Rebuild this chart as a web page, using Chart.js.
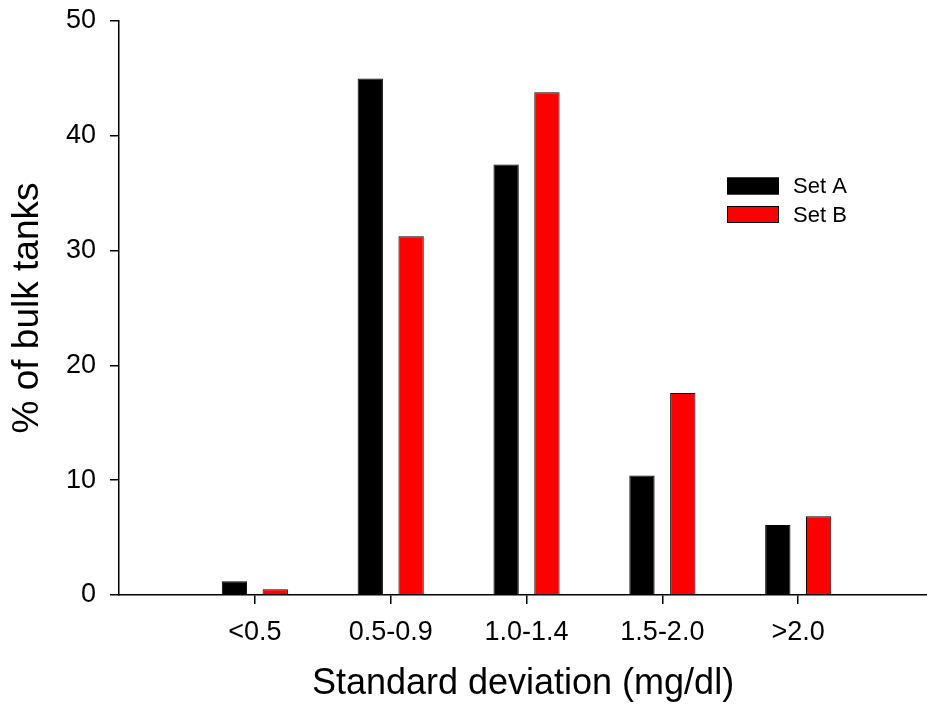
<!DOCTYPE html>
<html>
<head>
<meta charset="utf-8">
<script src="https://cdn.jsdelivr.net/npm/chart.js@4/dist/chart.umd.min.js"></script>
<style>
  html, body { margin: 0; padding: 0; background: #fff; }
  canvas { display: block; }
</style>
</head>
<body>
<canvas id="chart" width="927" height="709"></canvas>
<script>
// Distribution of bulk-tank standard deviations (mg/dl), two sample sets
const categories = ['<0.5', '0.5-0.9', '1.0-1.4', '1.5-2.0', '>2.0'];
const setA = [1.2, 45.0, 37.5, 10.4, 6.1];
const setB = [0.5, 31.25, 43.8, 17.6, 6.85];
const yTicks = [0, 10, 20, 30, 40, 50];
const seriesNames = ['Set A', 'Set B'];

const FONT = 'Liberation Sans, Arial, Helvetica, sans-serif';

// Categories sit at x = 1..5 on a linear axis that starts at 0
const toPoints = (vals) => vals.map((v, i) => ({ x: i + 1, y: v }));

// Small legend drawn inside the plot area, to the right of the tallest bars
const insetLegend = {
  id: 'insetLegend',
  afterDraw(chart, args, opts) {
    const ctx = chart.ctx;
    ctx.save();
    chart.data.datasets.forEach((ds, i) => {
      const y = opts.top + i * opts.spacing;
      ctx.fillStyle = ds.backgroundColor;
      ctx.fillRect(opts.left, y, opts.boxWidth, opts.boxHeight);
      ctx.lineWidth = 1;
      ctx.strokeStyle = '#000';
      ctx.strokeRect(opts.left + 0.5, y + 0.5, opts.boxWidth - 1, opts.boxHeight - 1);
      ctx.fillStyle = '#000';
      ctx.font = opts.fontSize + 'px ' + FONT;
      ctx.textBaseline = 'middle';
      ctx.textAlign = 'left';
      ctx.fillText(ds.label, opts.left + opts.boxWidth + opts.gap, y + opts.boxHeight / 2 + 1);
    });
    ctx.restore();
  }
};

new Chart(document.getElementById('chart'), {
  type: 'bar',
  data: {
    datasets: [
      {
        label: seriesNames[0],
        data: toPoints(setA),
        backgroundColor: '#000000',
        borderColor: '#000000',
        borderWidth: 1
      },
      {
        label: seriesNames[1],
        data: toPoints(setB),
        backgroundColor: '#ff0000',
        borderColor: '#000000',
        borderWidth: 1
      }
    ]
  },
  options: {
    responsive: false,
    animation: false,
    devicePixelRatio: 1,
    categoryPercentage: 0.601,
    barPercentage: 0.62,
    layout: { padding: { top: 21, left: 0, right: 0, bottom: 0 } },
    plugins: {
      legend: { display: false },
      tooltip: { enabled: false },
      insetLegend: {
        left: 727, top: 177.5, boxWidth: 52, boxHeight: 17, spacing: 28.5,
        gap: 14, fontSize: 22
      }
    },
    scales: {
      x: {
        type: 'linear',
        position: 'bottom',
        min: 0,
        max: 5.948,
        offset: false,
        afterBuildTicks(scale) {
          scale.ticks = categories.map((_, i) => ({ value: i + 1 }));
        },
        afterFit(scale) { scale.height = 114; },
        ticks: {
          autoSkip: false,
          maxRotation: 0,
          padding: 12,
          color: '#000',
          font: { family: FONT, size: 27 },
          callback: (value) => categories[value - 1]
        },
        grid: {
          display: true,
          offset: false,
          drawOnChartArea: false,
          drawTicks: true,
          tickLength: 9,
          color: '#000',
          lineWidth: 1.5
        },
        border: { display: true, color: '#000', width: 1.5 },
        title: {
          display: true,
          text: 'Standard deviation (mg/dl)',
          color: '#000',
          font: { family: FONT, size: 36 },
          padding: { top: 0, bottom: 3 }
        }
      },
      y: {
        min: 0,
        max: 50,
        afterBuildTicks(scale) {
          scale.ticks = yTicks.map(v => ({ value: v }));
        },
        afterFit(scale) {
          scale.width = 119;
          scale.paddingTop = 0;
          scale.paddingBottom = 0;
        },
        ticks: {
          padding: 14,
          color: '#000',
          font: { family: FONT, size: 27 }
        },
        grid: {
          display: true,
          drawOnChartArea: false,
          drawTicks: true,
          tickLength: 9,
          color: '#000',
          lineWidth: 1.5
        },
        border: { display: true, color: '#000', width: 1.5 },
        title: {
          display: true,
          text: '% of bulk tanks',
          color: '#000',
          font: { family: FONT, size: 37 },
          padding: { top: 6, bottom: 0 }
        }
      }
    }
  },
  plugins: [insetLegend]
});
</script>
</body>
</html>
